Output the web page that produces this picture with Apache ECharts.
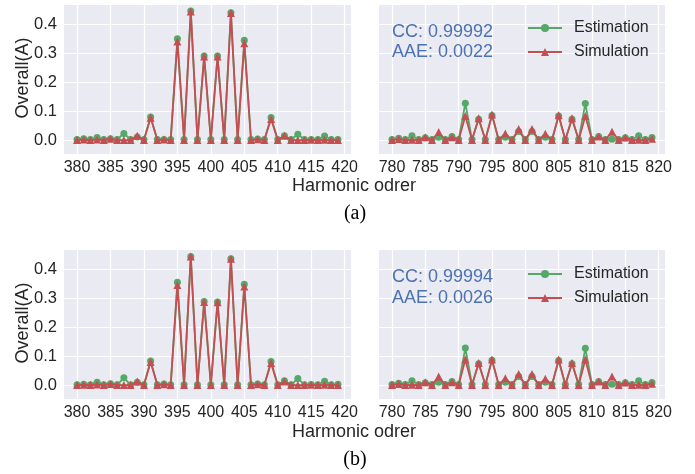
<!DOCTYPE html>
<html>
<head>
<meta charset="utf-8">
<script src="https://cdn.jsdelivr.net/npm/echarts@6/dist/echarts.min.js"></script>
<style>
  html, body { margin: 0; padding: 0; background: #fff; }
  #chart { width: 695px; height: 474px; }
</style>
</head>
<body>
<div id="chart"></div>
<script>
// harmonic orders
var ordersLow = [380,381,382,383,384,385,386,387,388,389,390,391,392,393,394,395,396,397,398,399,
                 400,401,402,403,404,405,406,407,408,409,410,411,412,413,414,415,416,417,418,419];
var ordersHigh = [780,781,782,783,784,785,786,787,788,789,790,791,792,793,794,795,796,797,798,799,
                  800,801,802,803,804,805,806,807,808,809,810,811,812,813,814,815,816,817,818,819];

// (a)
var estLowA = [0.002,0.005,0.002,0.009,0.002,0.005,0.002,0.023,0.002,0.011,0.002,0.080,0.002,0.002,0.002,0.350,0.002,0.445,0.002,0.290,
               0.002,0.290,0.002,0.439,0.002,0.344,0.002,0.004,0.002,0.078,0.002,0.015,0.002,0.020,0.002,0.002,0.002,0.014,0.002,0.002];
var simLowA = [0.000,0.002,0.000,0.002,0.000,0.005,0.000,0.000,0.000,0.015,0.000,0.077,0.000,0.002,0.000,0.340,0.000,0.444,0.000,0.288,
               0.000,0.288,0.000,0.438,0.000,0.334,0.000,0.003,0.000,0.073,0.000,0.015,0.000,0.000,0.000,0.001,0.000,0.001,0.000,0.000];
var estHighA = [0.002,0.006,0.002,0.015,0.002,0.008,0.002,0.010,0.002,0.012,0.002,0.127,0.002,0.072,0.002,0.085,0.002,0.010,0.002,0.030,
                0.002,0.030,0.002,0.010,0.002,0.083,0.002,0.072,0.002,0.126,0.002,0.012,0.002,0.003,0.002,0.008,0.002,0.015,0.002,0.009];
var simHighA = [0.000,0.004,0.000,0.001,0.000,0.010,0.000,0.028,0.000,0.010,0.000,0.083,0.000,0.075,0.000,0.088,0.000,0.023,0.000,0.038,
                0.000,0.038,0.000,0.022,0.000,0.086,0.000,0.075,0.000,0.083,0.000,0.012,0.000,0.029,0.000,0.009,0.000,0.001,0.000,0.005];

// (b)
var estLowB = [0.001,0.003,0.001,0.010,0.001,0.005,0.001,0.025,0.001,0.010,0.001,0.083,0.001,0.004,0.001,0.355,0.001,0.444,0.001,0.288,
               0.001,0.287,0.001,0.436,0.001,0.348,0.001,0.004,0.001,0.081,0.001,0.015,0.001,0.023,0.001,0.002,0.001,0.013,0.001,0.003];
var simLowB = [0.000,0.001,0.000,0.002,0.000,0.004,0.000,0.000,0.000,0.012,0.000,0.080,0.000,0.003,0.000,0.345,0.000,0.444,0.000,0.287,
               0.000,0.286,0.000,0.436,0.000,0.340,0.000,0.003,0.000,0.076,0.000,0.012,0.000,0.000,0.000,0.001,0.000,0.001,0.000,0.000];
var estHighB = [0.002,0.006,0.002,0.015,0.002,0.008,0.002,0.010,0.002,0.012,0.002,0.128,0.002,0.074,0.002,0.086,0.002,0.010,0.002,0.030,
                0.002,0.030,0.002,0.010,0.002,0.085,0.002,0.074,0.002,0.127,0.002,0.012,0.002,0.003,0.002,0.008,0.002,0.015,0.002,0.009];
var simHighB = [0.000,0.004,0.000,0.001,0.000,0.010,0.000,0.030,0.000,0.010,0.000,0.088,0.000,0.076,0.000,0.088,0.000,0.024,0.000,0.038,
                0.000,0.038,0.000,0.022,0.000,0.088,0.000,0.076,0.000,0.088,0.000,0.012,0.000,0.030,0.000,0.009,0.000,0.001,0.000,0.005];

var statsA = ['CC: 0.99992', 'AAE: 0.0022'];
var statsB = ['CC: 0.99994', 'AAE: 0.0026'];

var green = '#55A868';
var red = '#C44E52';
var blue = '#4C72B0';
var textColor = '#262626';
var font = '"Liberation Sans", Arial, sans-serif';

function pairs(xs, ys) {
  var out = [];
  for (var i = 0; i < xs.length; i++) out.push([xs[i], ys[i]]);
  return out;
}

function makeX(idx, lo, hi) {
  return {
    type: 'value', gridIndex: idx, min: lo, max: hi, splitNumber: 8,
    axisLine: {show: false}, axisTick: {show: false},
    axisLabel: {color: textColor, fontSize: 16, fontFamily: font, margin: 6,
                showMinLabel: false, showMaxLabel: false},
    splitLine: {show: true, showMinLine: false, showMaxLine: false,
                lineStyle: {color: '#ffffff', width: 1.2}}
  };
}

function makeY(idx, showLabels) {
  return {
    type: 'value', gridIndex: idx, min: -0.048, max: 0.466, splitNumber: 5,
    axisLine: {show: false}, axisTick: {show: false},
    axisLabel: {show: showLabels, color: textColor, fontSize: 16.5, fontFamily: font, margin: 7,
                showMinLabel: false, showMaxLabel: false,
                formatter: function(v) { return v.toFixed(1); }},
    splitLine: {show: true, showMinLine: false, showMaxLine: false,
                lineStyle: {color: '#ffffff', width: 1.2}}
  };
}

function makeSeries(name, idx, xs, ys) {
  var est = name === 'Estimation';
  return {
    name: name, type: 'line', xAxisIndex: idx, yAxisIndex: idx,
    data: pairs(xs, ys),
    symbol: est ? 'circle' : 'triangle',
    symbolSize: est ? 7 : 8,
    showAllSymbol: true,
    lineStyle: {color: est ? green : red, width: 1.8},
    itemStyle: {color: est ? green : red},
    z: est ? 2 : 3
  };
}

function makeLegend(top) {
  return {
    orient: 'vertical', left: 527, top: top, padding: 0,
    itemWidth: 34, itemHeight: 10, itemGap: 8,
    data: ['Estimation', 'Simulation'],
    textStyle: {color: textColor, fontSize: 16, fontFamily: font, padding: [0, 0, 0, 7]}
  };
}

function txt(x, y, s, size, color, fam, rot) {
  return {
    type: 'text', x: x, y: y, rotation: rot || 0, z: 100,
    style: {text: s, fill: color, font: size + 'px ' + fam, align: 'center', verticalAlign: 'middle'}
  };
}

function statTxt(x, y, s) {
  return {
    type: 'text', x: x, y: y, z: 100,
    style: {text: s, fill: blue, font: '18px ' + font, align: 'left', verticalAlign: 'middle'}
  };
}

window.onload = function() {
  var myChart = echarts.init(document.getElementById('chart'), null, {renderer: 'canvas'});
  var bg = '#EAEAF2';
  var option = {
    animation: false,
    backgroundColor: '#ffffff',
    grid: [
      {left: 64, top: 5, width: 287, height: 149, show: true, backgroundColor: bg, borderWidth: 0},
      {left: 379, top: 5, width: 286, height: 149, show: true, backgroundColor: bg, borderWidth: 0},
      {left: 64, top: 250, width: 287, height: 149, show: true, backgroundColor: bg, borderWidth: 0},
      {left: 379, top: 250, width: 286, height: 149, show: true, backgroundColor: bg, borderWidth: 0}
    ],
    xAxis: [
      makeX(0, 378.05, 420.95), makeX(1, 778.05, 820.95),
      makeX(2, 378.05, 420.95), makeX(3, 778.05, 820.95)
    ],
    yAxis: [makeY(0, true), makeY(1, false), makeY(2, true), makeY(3, false)],
    legend: [makeLegend(20), makeLegend(266)],
    series: [
      makeSeries('Estimation', 0, ordersLow, estLowA),
      makeSeries('Simulation', 0, ordersLow, simLowA),
      makeSeries('Estimation', 1, ordersHigh, estHighA),
      makeSeries('Simulation', 1, ordersHigh, simHighA),
      makeSeries('Estimation', 2, ordersLow, estLowB),
      makeSeries('Simulation', 2, ordersLow, simLowB),
      makeSeries('Estimation', 3, ordersHigh, estHighB),
      makeSeries('Simulation', 3, ordersHigh, simHighB)
    ],
    graphic: [
      txt(23, 78, 'Overall(A)', 18, textColor, font, Math.PI / 2),
      txt(23, 323, 'Overall(A)', 18, textColor, font, Math.PI / 2),
      txt(354, 186, 'Harmonic odrer', 18, textColor, font),
      txt(354, 432, 'Harmonic odrer', 18, textColor, font),
      txt(355, 214, '(a)', 20, '#000000', '"Liberation Serif", "Times New Roman", serif'),
      txt(355, 460, '(b)', 20, '#000000', '"Liberation Serif", "Times New Roman", serif'),
      statTxt(392, 32, statsA[0]),
      statTxt(392, 52, statsA[1]),
      statTxt(392, 277, statsB[0]),
      statTxt(392, 298, statsB[1])
    ]
  };
  myChart.setOption(option);
};
</script>
</body>
</html>
